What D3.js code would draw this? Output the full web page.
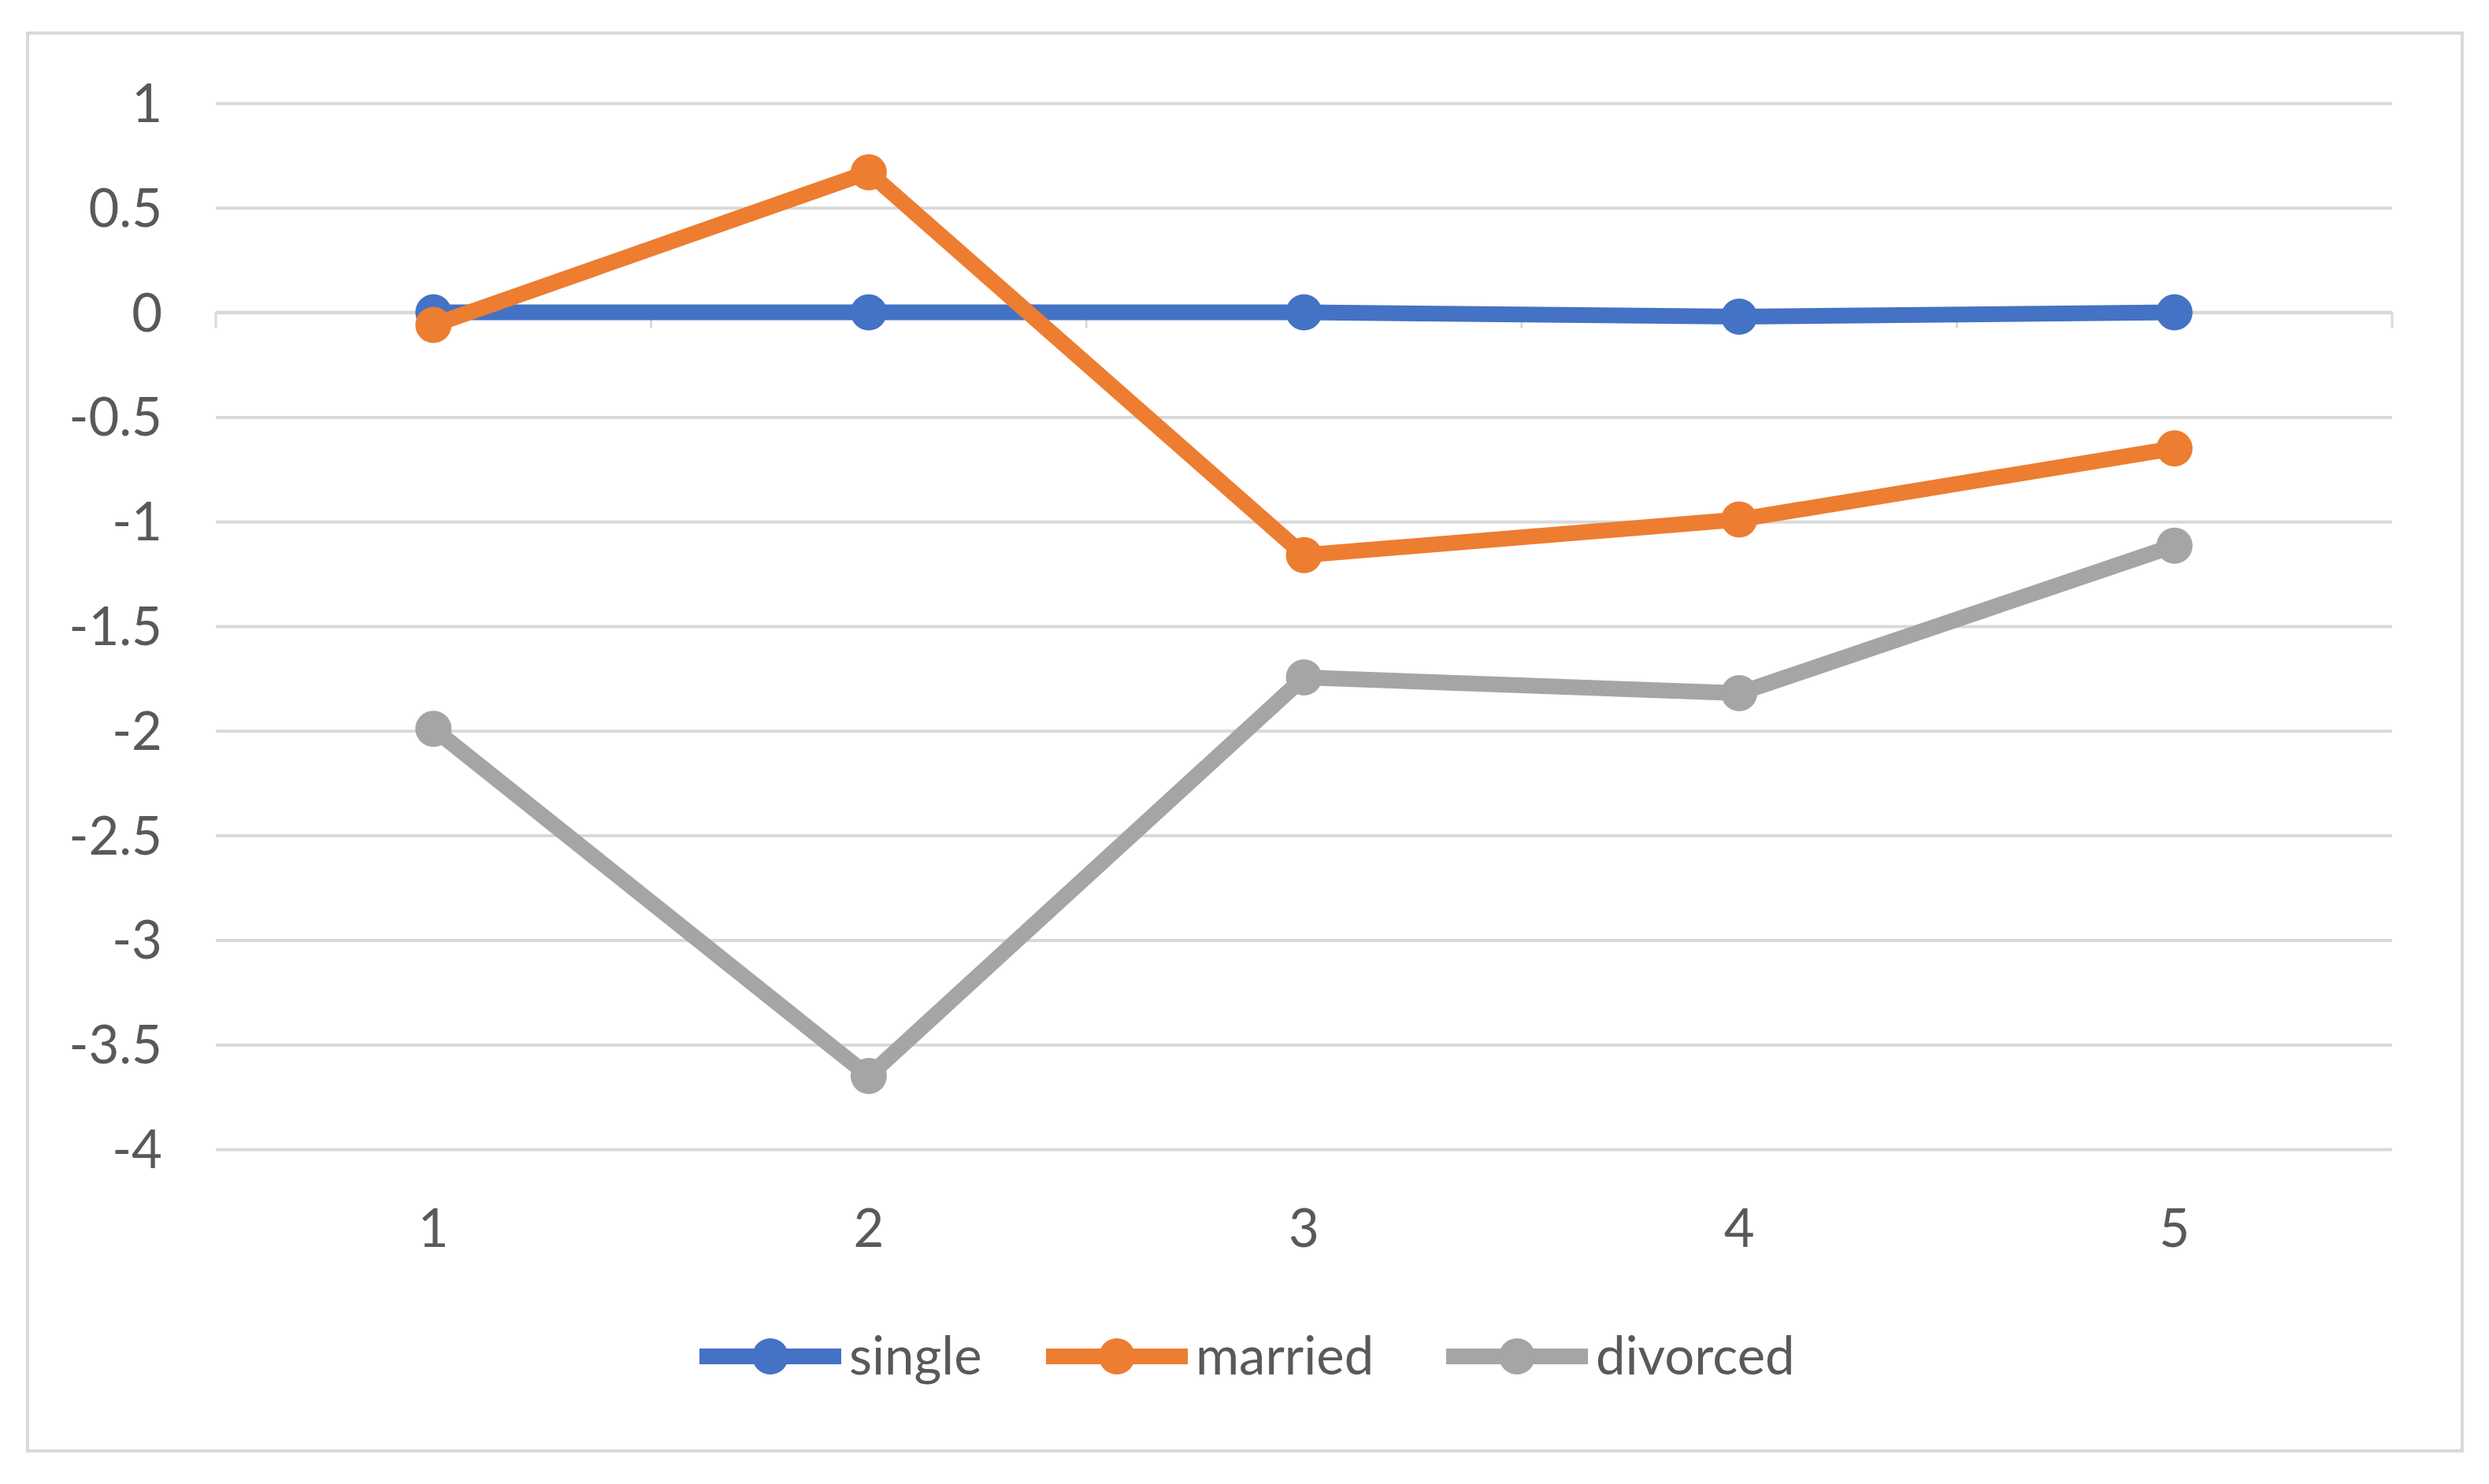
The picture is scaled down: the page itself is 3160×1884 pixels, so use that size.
<!DOCTYPE html>
<html><head><meta charset="utf-8">
<script src="https://cdn.jsdelivr.net/npm/d3@7"></script>
<style>html,body{margin:0;padding:0;background:#fff;}svg{display:block;}</style>
</head><body>
<svg id="chart" width="3160" height="1884"></svg>
<script>
const categories = ["1", "2", "3", "4", "5"];
const seriesNames = ["single", "married", "divorced"];
const single = [0, 0, 0, -0.02, 0];
const married = [-0.06, 0.67, -1.16, -0.99, -0.65];
const divorced = [-1.99, -3.65, -1.745, -1.82, -1.115];
const yTicks = [1, 0.5, 0, -0.5, -1, -1.5, -2, -2.5, -3, -3.5, -4];
const colors = ["#4472C4", "#ED7D31", "#A5A5A5"];

(function () {
const series = [single, married, divorced];
const svg = d3.select("#chart");
const font = "Lato, 'Open Sans', sans-serif";
const textColor = "#595959";
const gridColor = "#d9d9d9";

// outer border
svg.append("rect").attr("x", 35).attr("y", 42).attr("width", 3091).attr("height", 1800)
  .attr("fill", "#fff").attr("stroke", gridColor).attr("stroke-width", 4);

const pLeft = 274, pRight = 3037, pTop = 131, pBottom = 1459;
const x = d3.scaleBand().domain(categories).range([pLeft, pRight]).padding(0);
const y = d3.scaleLinear().domain([-4, 1]).range([pBottom, pTop]);

// gridlines
const yAxis = d3.axisLeft(y).tickValues(yTicks).tickSize(-(pRight - pLeft)).tickPadding(0)
  .tickFormat(d => String(d));
const gy = svg.append("g").attr("transform", `translate(${pLeft},0)`).call(yAxis);
gy.select(".domain").remove();
gy.selectAll(".tick line").attr("stroke", gridColor).attr("stroke-width", 4);
gy.selectAll(".tick text").attr("x", -68).attr("dy", "0.35em")
  .attr("fill", textColor).style("font-family", font).style("font-size", "67px");

// category axis at zero
const xAxis = d3.axisBottom(x).tickSize(0).tickPadding(0);
const gx = svg.append("g").attr("transform", `translate(0,${y(0)})`).call(xAxis);
gx.select(".domain").attr("stroke", gridColor).attr("stroke-width", 4).attr("d", `M${pLeft},0H${pRight}`);
gx.selectAll(".tick text").attr("y", y(-4) - y(0) + 76)
  .attr("fill", textColor).style("font-family", font).style("font-size", "67px");
// tick marks at band boundaries
const bounds = categories.map(c => x(c)).concat([pRight]);
gx.selectAll("line.bt").data(bounds).enter().append("line").attr("class", "bt")
  .attr("x1", d => d).attr("x2", d => d).attr("y1", 0).attr("y2", 20)
  .attr("stroke", gridColor).attr("stroke-width", 3);

const cx = c => x(c) + x.bandwidth() / 2;
const line = d3.line().x((d, i) => cx(categories[i])).y(d => y(d));

series.forEach((s, k) => {
  const g = svg.append("g");
  g.append("path").datum(s).attr("d", line).attr("fill", "none")
    .attr("stroke", colors[k]).attr("stroke-width", 20).attr("stroke-linejoin", "round");
  g.selectAll("circle").data(s).enter().append("circle")
    .attr("cx", (d, i) => cx(categories[i])).attr("cy", d => y(d)).attr("r", 23)
    .attr("fill", colors[k]);
});

// legend
const legendX = [888, 1328, 1836];
const legendY = 1722;
seriesNames.forEach((n, k) => {
  const g = svg.append("g").attr("transform", `translate(${legendX[k]},${legendY})`);
  g.append("line").attr("x1", 0).attr("x2", 180).attr("y1", 0).attr("y2", 0)
    .attr("stroke", colors[k]).attr("stroke-width", 20);
  g.append("circle").attr("cx", 90).attr("cy", 0).attr("r", 23).attr("fill", colors[k]);
  g.append("text").attr("x", 190).attr("y", 0).attr("dy", "0.35em").text(n)
    .attr("fill", textColor).style("font-family", font).style("font-size", "67px");
});
})();
</script>
</body></html>
